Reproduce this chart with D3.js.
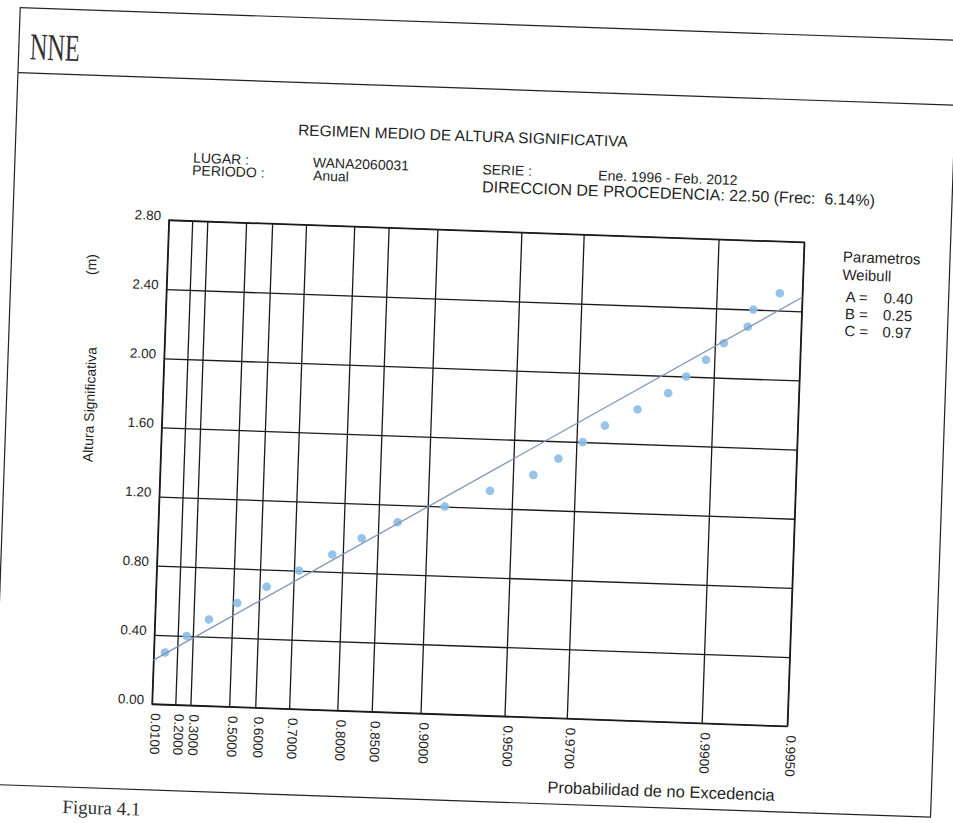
<!DOCTYPE html>
<meta charset="utf-8">
<style>
  body { margin: 0; background: #fff; }
  text { font-family: "Liberation Sans", Arial, Helvetica, sans-serif; fill: #1f1f1f; }
</style>
<svg id="chart" width="953" height="823"></svg>
<script src="https://d3js.org/d3.v7.min.js"></script>
<script>

// probabilidad de no excedencia (eje x, papel Weibull)
probTicks = [0.01, 0.2, 0.3, 0.5, 0.6, 0.7, 0.8, 0.85, 0.9, 0.95, 0.97, 0.99, 0.995]
// altura significativa (eje y)
heightTicks = [0, 0.4, 0.8, 1.2, 1.6, 2.0, 2.4, 2.8]

// puntos del regimen medio
alturas = [0.3, 0.4, 0.5, 0.6, 0.7, 0.8, 0.9, 1.0, 1.1, 1.2, 1.3, 1.4, 1.5, 1.6,
           1.7, 1.8, 1.9, 2.0, 2.1, 2.2, 2.3, 2.4, 2.5]
probNoExc = [0.1077, 0.2614, 0.3889, 0.5189, 0.6238, 0.7126, 0.7817, 0.8285, 0.8723,
             0.9131, 0.9399, 0.9577, 0.9654, 0.9715, 0.9761, 0.9816, 0.9856, 0.9875,
             0.9893, 0.9907, 0.9923, 0.9926, 0.9940]

// parametros Weibull
weibA = 0.40
weibB = 0.25
weibC = 0.97

width = 953
height = 823

var svg = d3.select("#chart");
svg.append("rect").attr("width", width).attr("height", height).attr("fill", "#fff");

// la hoja escaneada esta girada unos 2 grados
var page = svg.append("g").attr("transform", "rotate(2,152,704)");

var plotLeft = 152, plotTop = 219.7, plotW = 635.7, plotH = 484.3;

function weib(p) { return Math.pow(-Math.log(1 - p), 1 / weibC); }

var x = d3.scaleLinear()
    .domain([weib(probTicks[0]), weib(probTicks[probTicks.length - 1])])
    .range([plotLeft, plotLeft + plotW]);
var y = d3.scaleLinear().domain([0, 2.8]).range([plotTop + plotH, plotTop]);

// marco de la pagina
var frame = page.append("g").attr("stroke", "#222").attr("fill", "none").attr("stroke-width", 1.2);
frame.append("rect").attr("x", -4).attr("y", 12.6).attr("width", 938).attr("height", 777.4);
frame.append("line").attr("x1", -4).attr("x2", 934).attr("y1", 77.6).attr("y2", 77.6);

page.append("text")
    .attr("x", 7).attr("y", 64)
    .attr("textLength", 50).attr("lengthAdjust", "spacingAndGlyphs")
    .style("font-family", "'Liberation Serif', 'DejaVu Serif', serif")
    .style("font-size", "38px")
    .style("fill", "#333")
    .text("NNE");

// cabecera
var head = page.append("g");
head.append("text").attr("x", 278).attr("y", 130.5).style("font-size", "15.5px").text("REGIMEN MEDIO DE ALTURA SIGNIFICATIVA");
head.append("text").attr("x", 174).attr("y", 161.5).style("font-size", "14px").text("LUGAR :");
head.append("text").attr("x", 173.5).attr("y", 174).style("font-size", "14px").text("PERIODO :");
head.append("text").attr("x", 294).attr("y", 162).style("font-size", "14px").text("WANA2060031");
head.append("text").attr("x", 294.5).attr("y", 175).style("font-size", "14px").text("Anual");
head.append("text").attr("x", 463.5).attr("y", 163).style("font-size", "14px").text("SERIE :");
head.append("text").attr("x", 579.5).attr("y", 165).style("font-size", "14px").text("Ene. 1996 - Feb. 2012");
head.append("text").attr("x", 464).attr("y", 181).style("font-size", "16px")
    .style("white-space", "pre")
    .text("DIRECCION DE PROCEDENCIA: 22.50 (Frec:  6.14%)");

// rejilla y ejes
var xAxis = page.append("g")
    .attr("transform", "translate(0," + (plotTop + plotH) + ")")
    .call(d3.axisBottom(x)
        .tickValues(probTicks.map(weib))
        .tickSize(-plotH).tickSizeOuter(0)
        .tickFormat(function(d, i) { return d3.format(".4f")(probTicks[i]); }));
xAxis.select(".domain").remove();
xAxis.selectAll("line").attr("stroke", "#1a1a1a").attr("stroke-width", 1.3);
xAxis.selectAll("text")
    .attr("transform", "rotate(90)")
    .attr("x", 9).attr("y", 0).attr("dy", "0.08em")
    .style("text-anchor", "start")
    .style("font-size", "13.5px");

var yAxis = page.append("g")
    .attr("transform", "translate(" + plotLeft + ",0)")
    .call(d3.axisLeft(y)
        .tickValues(heightTicks)
        .tickSize(-plotW).tickSizeOuter(0).tickPadding(8)
        .tickFormat(d3.format(".2f")));
yAxis.select(".domain").remove();
yAxis.selectAll("line").attr("stroke", "#1a1a1a").attr("stroke-width", 1.3);
yAxis.selectAll("text").attr("dy", 0).style("font-size", "13.5px");
xAxis.attr("font-family", null);
yAxis.attr("font-family", null);

page.append("rect")
    .attr("x", plotLeft).attr("y", plotTop).attr("width", plotW).attr("height", plotH)
    .attr("fill", "none").attr("stroke", "#1a1a1a").attr("stroke-width", 1.3);

// puntos
var pts = alturas.map(function(h, i) { return { h: h, p: probNoExc[i] }; });
page.append("g")
  .selectAll("circle")
  .data(pts)
  .enter().append("circle")
    .attr("cx", function(d) { return x(weib(d.p)); })
    .attr("cy", function(d) { return y(d.h); })
    .attr("r", 4.3)
    .attr("fill", "#8cbce6")
    .attr("fill-opacity", 0.9);

// recta de ajuste Weibull
var ajuste = d3.line()
    .x(function(p) { return x(weib(p)); })
    .y(function(p) { return y(weibB + weibA * weib(p)); });
page.append("path")
    .datum([probTicks[0], probTicks[probTicks.length - 1]])
    .attr("d", ajuste)
    .attr("fill", "none")
    .attr("stroke", "#8095b3")
    .attr("stroke-width", 1.3);

// titulos de ejes
page.append("text")
    .attr("transform", "translate(84,407) rotate(-90)")
    .style("text-anchor", "middle").style("font-size", "14px")
    .text("Altura Significativa");
page.append("text")
    .attr("transform", "translate(81,267) rotate(-90)")
    .style("text-anchor", "middle").style("font-size", "14px")
    .text("(m)");
page.append("text")
    .attr("x", 550).attr("y", 779)
    .style("font-size", "16.5px")
    .text("Probabilidad de no Excedencia");

// leyenda
var leg = page.append("g").style("font-size", "15px");
leg.append("text").attr("x", 827).attr("y", 238).text("Parametros");
leg.append("text").attr("x", 827).attr("y", 256).text("Weibull");
var params = [["A", weibA], ["B", weibB], ["C", weibC]];
params.forEach(function(d, i) {
  leg.append("text").attr("x", 831).attr("y", 278 + i * 17).text(d[0] + " =");
  leg.append("text").attr("x", 869).attr("y", 278 + i * 17).text(d3.format(".2f")(d[1]));
});

// pie de figura (en el borde inferior del escaneo)
page.append("text")
    .attr("x", 66).attr("y", 816)
    .style("font-family", "'Liberation Serif', 'DejaVu Serif', serif")
    .style("font-size", "19px")
    .style("fill", "#333")
    .text("Figura 4.1");

</script>
